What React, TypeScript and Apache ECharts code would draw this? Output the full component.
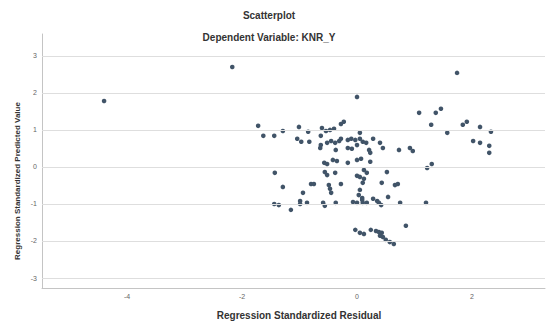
import React, { useEffect, useRef } from "react";
import * as echarts from "echarts";

const titleText = "Scatterplot";
const subtitleText = "Dependent Variable: KNR_Y";
const xName = "Regression Standardized Residual";
const yName = "Regression Standardized Predicted Value";

const xTicks = [-4, -2, 0, 2];
const yTicks = [-3, -2, -1, 0, 1, 2, 3];

const residual = [
  -4.4, -2.17, 0.0, 1.74, 1.08, 1.37, 1.46, 1.29, 1.57, 1.84, 1.91, 2.14, 2.33, 2.02, 2.14, 2.3, 2.3, 1.22, 1.3, 1.2,
  -1.72, -1.63, -1.44, -1.29, -1.01, -1.04, -0.97, -0.85, -0.83, -0.61, -0.54, -0.47, -0.4, -0.28, -0.23, -0.63, -0.64,
  -0.63, -0.52, -0.45, -0.38, -0.31, -0.28, -0.37, -0.16, -0.1, -0.16, -0.09, 0.05, 0.05, -0.03, 0.0, 0.1, 0.16, 0.28,
  0.21, 0.23, 0.4, 0.45, 0.73, 0.92, 0.97, 0.52, -1.43, -1.29, -0.8, -0.75, -0.57, -0.52, -0.56, -0.52, -0.42, -0.35,
  -0.38, -0.16, 0.0, 0.07, 0.23, 0.0, 0.05, 0.12, 0.17, 0.12, 0.1, 0.05, 0.03, 0.09, -0.49, -0.47, -0.45, -0.28, 0.43,
  0.66, 0.71, -0.94, -0.99, -0.99, -0.87, -1.44, -1.36, -1.15, -0.59, -0.56, -0.37, -0.07, 0.0, 0.09, 0.1, 0.17, 0.28,
  0.35, 0.38, 0.42, 0.54, 0.75, 0.85, -0.03, 0.05, 0.12, 0.24, 0.33, 0.38, 0.43, 0.4, 0.45, 0.5, 0.57, 0.64,
];

const predicted = [
  1.78, 2.7, 1.89, 2.54, 1.46, 1.46, 1.57, 1.14, 0.92, 1.14, 1.22, 1.08, 0.95, 0.7, 0.65, 0.57, 0.38, -0.03, 0.08, -0.97,
  1.11, 0.84, 0.84, 0.97, 1.08, 0.76, 0.68, 0.95, 0.68, 1.05, 0.97, 1.0, 1.03, 1.16, 1.22, 0.84, 0.51,
  0.59, 0.65, 0.7, 0.65, 0.7, 0.76, 0.46, 0.73, 0.76, 0.51, 0.49, 0.92, 0.76, 0.73, 0.59, 0.68, 0.65, 0.76,
  0.46, 0.38, 0.65, 0.51, 0.46, 0.51, 0.43, -0.14, -0.16, -0.54, -0.46, -0.46, 0.11, 0.08, -0.14, -0.22, 0.19, 0.16,
  -0.16, 0.11, 0.19, 0.22, 0.14, -0.24, -0.27, -0.08, -0.16, -0.32, -0.43, -0.62, -0.76, -0.84, -0.49, -0.59, -0.7, -0.46, -0.43,
  -0.49, -0.46, -0.7, -0.92, -1.0, -0.97, -1.0, -1.03, -1.16, -0.97, -1.05, -0.97, -0.95, -0.97, -0.89, -0.97, -0.97, -0.86,
  -0.92, -0.97, -1.03, -0.81, -0.97, -1.59, -1.7, -1.78, -1.81, -1.7, -1.73, -1.76, -1.78, -1.86, -1.89, -1.97, -2.03, -2.08,
];

const points = residual.map((x, i) => [x, predicted[i]]);

const FONT = "Liberation Sans, Arial, sans-serif";

export default function App() {
  const ref = useRef<HTMLDivElement>(null);
  useEffect(() => {
    document.body.style.margin = "0";
    const chart = echarts.init(ref.current!, undefined, { renderer: "svg" });
    chart.setOption({
      animation: false,
      backgroundColor: "#ffffff",
      grid: { left: 42, right: 2, top: 34, bottom: 34, containLabel: false },
      xAxis: {
        type: "value",
        min: -5.48,
        max: 3.27,
        axisLine: { show: true, onZero: false, lineStyle: { color: "#c4c4c4", width: 1 } },
        axisTick: { show: false, customValues: xTicks },
        splitLine: { show: false },
        axisLabel: {
          customValues: xTicks,
          fontSize: 7,
          color: "#666666",
          fontFamily: FONT,
          margin: 5,
        },
      },
      yAxis: {
        type: "value",
        min: -3.27,
        max: 3.59,
        axisLine: { show: true, onZero: false, lineStyle: { color: "#c4c4c4", width: 1 } },
        axisTick: { show: false, customValues: yTicks },
        splitLine: { show: false },
        axisLabel: {
          customValues: yTicks,
          fontSize: 7,
          color: "#666666",
          fontFamily: FONT,
          margin: 5,
        },
      },
      graphic: [
        {
          type: "text",
          x: 269,
          y: 15,
          style: {
            text: titleText,
            textAlign: "center",
            textVerticalAlign: "middle",
            fontSize: 10,
            fontWeight: "bold",
            fontFamily: FONT,
            fill: "#333333",
          },
        },
        {
          type: "text",
          x: 269,
          y: 37,
          style: {
            text: subtitleText,
            textAlign: "center",
            textVerticalAlign: "middle",
            fontSize: 10,
            fontWeight: "bold",
            fontFamily: FONT,
            fill: "#333333",
          },
        },
        {
          type: "text",
          x: 299,
          y: 315,
          style: {
            text: xName,
            textAlign: "center",
            textVerticalAlign: "middle",
            fontSize: 10,
            fontWeight: "bold",
            fontFamily: FONT,
            fill: "#333333",
          },
        },
        {
          type: "text",
          x: 17,
          y: 181,
          rotation: Math.PI / 2,
          style: {
            text: yName,
            textAlign: "center",
            textVerticalAlign: "middle",
            fontSize: 8,
            fontWeight: "bold",
            fontFamily: FONT,
            fill: "#333333",
          },
        },
      ],
      series: [
        {
          type: "scatter",
          data: points,
          symbol: "circle",
          symbolSize: 4.6,
          itemStyle: { color: "#415468", opacity: 1 },
          markLine: {
            silent: true,
            symbol: "none",
            label: { show: false },
            lineStyle: { color: "#dedede", type: "solid", width: 1 },
            data: yTicks.map((v) => ({ yAxis: v })),
          },
          z: 3,
        },
      ],
    });
    return () => chart.dispose();
  }, []);
  return <div ref={ref} style={{ width: 547, height: 322 }} />;
}
